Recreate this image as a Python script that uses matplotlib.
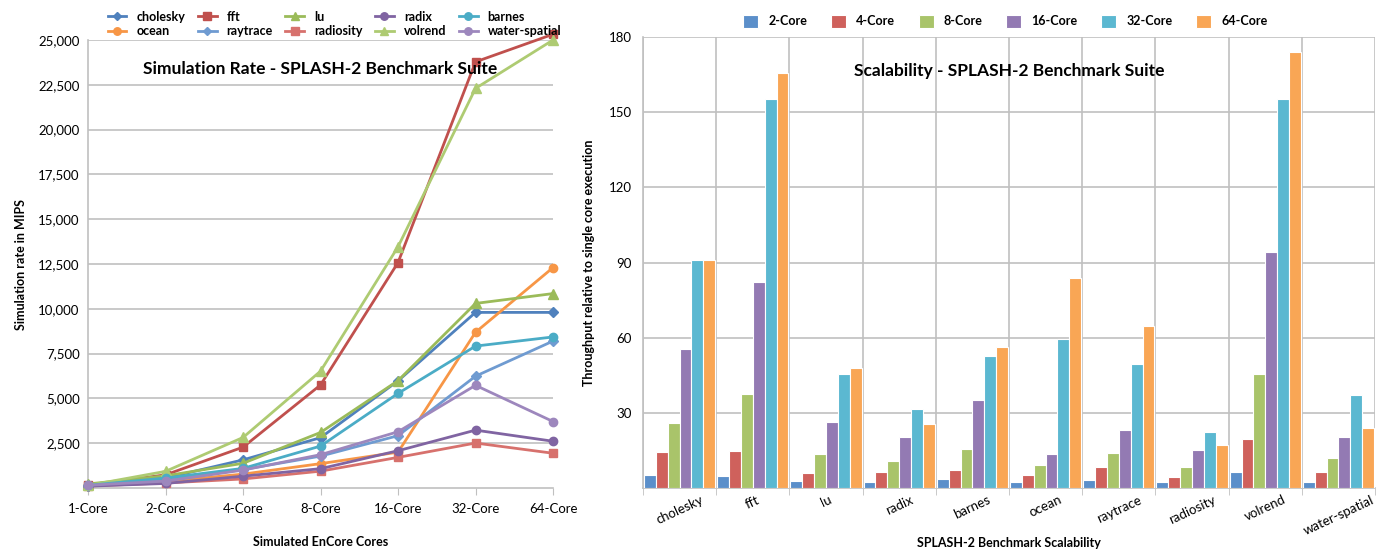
import numpy as np
import matplotlib
matplotlib.use("Agg")
import matplotlib.pyplot as plt

plt.rcParams['font.family'] = ['Lato', 'DejaVu Sans']

# Left chart: simulation rate (MIPS)
cores = ["1-Core", "2-Core", "4-Core", "8-Core", "16-Core", "32-Core", "64-Core"]
cholesky = [108, 560, 1570, 2810, 5980, 9800, 9800]
fft = [153, 735, 2280, 5750, 12580, 23780, 25320]
lu = [226, 680, 1380, 3100, 5990, 10300, 10850]
radix = [102, 255, 660, 1080, 2080, 3230, 2610]
barnes = [150, 555, 1095, 2340, 5280, 7920, 8430]
ocean = [146, 365, 775, 1360, 2000, 8690, 12300]
raytrace = [126, 430, 1030, 1780, 2920, 6240, 8200]
radiosity = [112, 280, 505, 940, 1710, 2510, 1940]
volrend = [143, 930, 2820, 6520, 13460, 22300, 25000]
water_spatial = [154, 385, 1000, 1860, 3140, 5730, 3710]

# Right chart: speedup over single core
benchmarks = ["cholesky", "fft", "lu", "radix", "barnes", "ocean",
              "raytrace", "radiosity", "volrend", "water-spatial"]
bar_series = ["2-Core", "4-Core", "8-Core", "16-Core", "32-Core", "64-Core"]
speedup_2 = [5.2, 4.8, 3.0, 2.5, 3.7, 2.5, 3.4, 2.5, 6.5, 2.5]
speedup_4 = [14.5, 14.9, 6.1, 6.5, 7.3, 5.3, 8.2, 4.5, 19.7, 6.5]
speedup_8 = [26.0, 37.6, 13.7, 10.6, 15.6, 9.3, 14.1, 8.4, 45.6, 12.1]
speedup_16 = [55.4, 82.2, 26.5, 20.4, 35.2, 13.7, 23.2, 15.3, 94.1, 20.4]
speedup_32 = [90.9, 155.4, 45.6, 31.7, 52.8, 59.5, 49.5, 22.4, 155.4, 37.2]
speedup_64 = [90.9, 165.5, 48.0, 25.6, 56.2, 83.7, 64.6, 17.3, 174.1, 24.1]

grid_col = "#c0c0c0"

fig = plt.figure(figsize=(13.93, 5.54), dpi=100)

# ---------------- left chart
ax1 = fig.add_axes([0.0632, 0.1191, 0.3338, 0.8087])
x = np.arange(len(cores))
lines = [
    ("cholesky", cholesky, "#4f81bd", "D", 5),
    ("ocean", ocean, "#f79646", "o", 6),
    ("fft", fft, "#c0504d", "s", 6),
    ("raytrace", raytrace, "#6f9bd1", "D", 5),
    ("lu", lu, "#9bbb59", "^", 7),
    ("radiosity", radiosity, "#d7716d", "s", 6),
    ("radix", radix, "#8064a2", "o", 6),
    ("volrend", volrend, "#aecb72", "^", 7),
    ("barnes", barnes, "#4bacc6", "o", 6),
    ("water-spatial", water_spatial, "#9d87bd", "o", 6),
]
for name, vals, col, mk, ms in lines:
    ax1.plot(x, vals, color=col, marker=mk, markersize=ms, linewidth=2,
             label=name, clip_on=False, zorder=3)

ax1.set_xlim(0, 6)
ax1.set_ylim(0, 25000)
ax1.set_yticks(np.arange(2500, 25001, 2500))
ax1.set_yticklabels([f"{v:,}" for v in range(2500, 25001, 2500)])
ax1.set_xticks(x)
ax1.set_xticklabels(cores)
ax1.yaxis.grid(True, color=grid_col, linewidth=1.2)
ax1.set_axisbelow(True)
for s in ["top", "right"]:
    ax1.spines[s].set_visible(False)
for s in ["left", "bottom"]:
    ax1.spines[s].set_color(grid_col)
    ax1.spines[s].set_linewidth(1.2)
ax1.tick_params(axis="y", length=0, labelsize=9.5, pad=6)
ax1.tick_params(axis="x", length=5, color=grid_col, labelsize=9.5, pad=6)
ax1.set_xlabel("Simulated EnCore Cores", fontsize=9, fontweight="bold", labelpad=15)
ax1.set_ylabel("Simulation rate in MIPS", fontsize=9, fontweight="bold", labelpad=8)
ax1.text(0.5, 0.935, "Simulation Rate - SPLASH-2 Benchmark Suite", transform=ax1.transAxes,
         ha="center", va="center", fontsize=12.5, fontweight="bold")
ax1.legend(ncol=5, loc="lower center", bbox_to_anchor=(0.53, 0.995), frameon=False,
           prop={"weight": "bold", "size": 9}, handlelength=1.5, columnspacing=1.0,
           labelspacing=0.2, handletextpad=0.8, borderaxespad=0, markerscale=0.9)

# ---------------- right chart
ax2 = fig.add_axes([0.4616, 0.1191, 0.5255, 0.814])
bar_cols = ["#5b8fca", "#cf615c", "#a9c46a", "#937ab3", "#5bb8d1", "#f9a655"]
speedups = [speedup_2, speedup_4, speedup_8, speedup_16, speedup_32, speedup_64]
xb = np.arange(len(benchmarks))
bw = 0.162
for i, (name, vals) in enumerate(zip(bar_series, speedups)):
    ax2.bar(xb + (i - 2.5) * bw, vals, width=bw, color=bar_cols[i], label=name,
            edgecolor="white", linewidth=0.8, zorder=3)

ax2.set_xlim(-0.5, len(benchmarks) - 0.5)
ax2.set_ylim(0, 180)
ax2.set_yticks(np.arange(30, 181, 30))
ax2.set_xticks(xb)
ax2.set_xticklabels(benchmarks, rotation=25, ha="center", fontsize=9.5)
ax2.set_xticks(np.arange(-0.5, len(benchmarks)), minor=True)
ax2.xaxis.grid(True, which="minor", color=grid_col, linewidth=1.2)
ax2.yaxis.grid(True, color=grid_col, linewidth=1.2)
ax2.set_axisbelow(True)
for s in ["top", "right"]:
    ax2.spines[s].set_visible(False)
for s in ["left", "bottom"]:
    ax2.spines[s].set_color(grid_col)
    ax2.spines[s].set_linewidth(1.2)
ax2.tick_params(axis="x", which="major", length=0, pad=4)
ax2.tick_params(axis="x", which="minor", length=5, color=grid_col)
ax2.tick_params(axis="y", length=0, labelsize=9.5, pad=8)
ax2.set_xlabel("SPLASH-2 Benchmark Scalability", fontsize=9, fontweight="bold", labelpad=0)
ax2.set_ylabel("Throughput relative to single core execution", fontsize=9,
               fontweight="bold", labelpad=10)
ax2.text(0.5, 0.925, "Scalability - SPLASH-2 Benchmark Suite", transform=ax2.transAxes,
         ha="center", va="center", fontsize=12.5, fontweight="bold")
ax2.legend(ncol=6, loc="lower center", bbox_to_anchor=(0.495, 1.01), frameon=False,
           prop={"weight": "bold", "size": 9}, handlelength=1.2, handleheight=1.2,
           columnspacing=1.9, handletextpad=0.8, borderaxespad=0)

fig.savefig("out.png", dpi=100)
